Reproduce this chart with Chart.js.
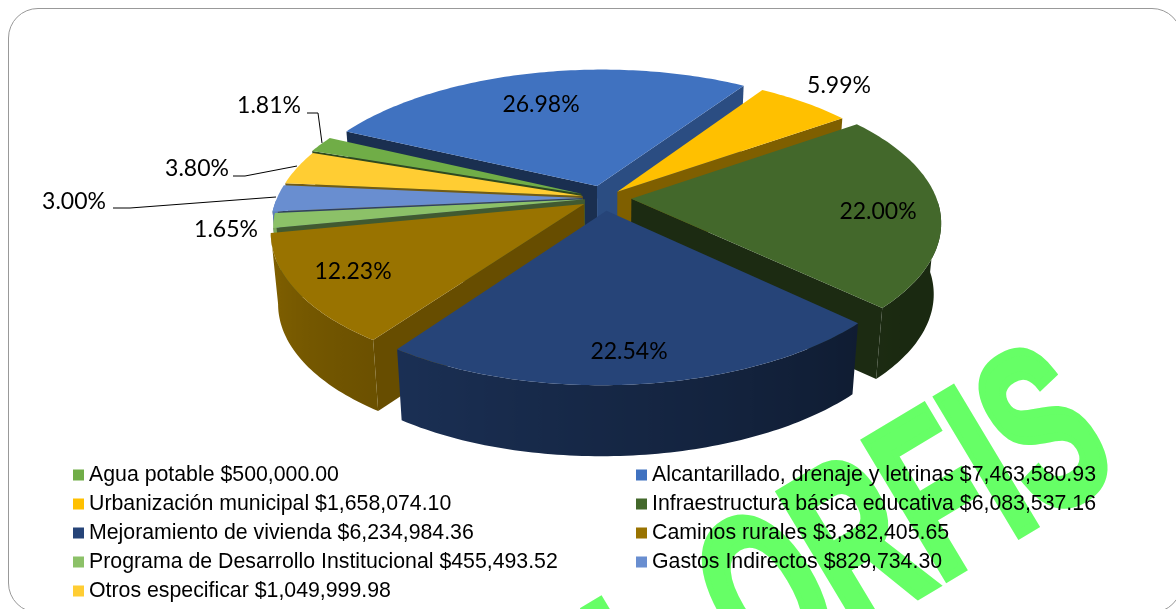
<!DOCTYPE html>
<html>
<head>
<meta charset="utf-8">
<title>Inversión por rubro</title>
<script src="https://cdn.jsdelivr.net/npm/chart.js@4/dist/chart.umd.js"></script>
<style>
  html, body { margin: 0; padding: 0; width: 1176px; height: 609px; overflow: hidden; background: #fff; }
  #frame { position: absolute; left: 8px; top: 8px; width: 1174px; height: 605px; box-sizing: border-box;
           border: 1.5px solid #999; border-radius: 30px; }
  #mark { position: absolute; left: 0; top: 0; font: bold 230px "Liberation Sans", Arial, sans-serif; color: #66ff66;
          -webkit-text-stroke: 9px #66ff66; white-space: pre; line-height: 1; transform-origin: 0 0; }
  canvas { position: absolute; left: 0; top: 0; }
</style>
</head>
<body>
<div id="frame"></div>
<div id="mark"></div>
<canvas id="chart" width="1176" height="609"></canvas>
<script>
const categories = [
  "Agua potable", "Alcantarillado, drenaje y letrinas", "Urbanización municipal",
  "Infraestructura básica educativa", "Mejoramiento de vivienda", "Caminos rurales",
  "Programa de Desarrollo Institucional", "Gastos Indirectos", "Otros especificar",
];
const amounts = [500000.0, 7463580.93, 1658074.1, 6083537.16, 6234984.36, 3382405.65, 455493.52, 829734.3, 1049999.98];
const percents = ["1.81%", "26.98%", "5.99%", "22.00%", "22.54%", "12.23%", "1.65%", "3.00%", "3.80%"];
const colors = ["#70AD47", "#4072C0", "#FFC000", "#43682B", "#264478", "#997300", "#8CC168", "#698ED0", "#FFCD33"];

// where each percent label sits, and the leader lines of the small slices
const labelSpots = [[269, 106], [541, 105], [839, 86], [878, 212], [629, 352], [353, 272], [226, 230], [74, 202], [197, 169]];
const leaders = {
  0: [[307, 113], [318, 113], [322, 143]],
  7: [[113, 208], [130, 208], [276, 197]],
  8: [[233, 176], [245, 176], [297, 166]],
};

// the look of the tilted pie
const view = { cx: 604, cy: 198, sx: 305, sy: 140, skew: -5, persp: 0.17, explode: 0.09, depth: 71, shrink: 0.978 };
const explodeBy = [0.9, 1, 0.7, 1, 1, 0.85, 0.7, 0.8, 0.8];
const firstAngle = 289;

const money = (n) => "$" + n.toLocaleString("en-US", { minimumFractionDigits: 2, maximumFractionDigits: 2 });

function shadeColor(hex, f) {
  const n = parseInt(hex.slice(1), 16);
  return `rgb(${((n >> 16) & 255) * f | 0},${((n >> 8) & 255) * f | 0},${(n & 255) * f | 0})`;
}

function project(u, v) {
  const w = 1 - view.persp * v;
  return [view.cx + (view.sx * u + view.skew * v) / w, view.cy + (view.sy * v) / w];
}

function lower(p) {
  return [view.cx + (p[0] - view.cx) * view.shrink, p[1] + view.depth];
}

function poly(ctx, pts, fill) {
  ctx.beginPath();
  pts.forEach((p, i) => (i ? ctx.lineTo(p[0], p[1]) : ctx.moveTo(p[0], p[1])));
  ctx.closePath();
  ctx.fillStyle = fill;
  ctx.fill();
}

// side of a radial cut, by the way it faces
function cutShade(n) {
  if (n < 124) return 0.68;
  if (n < 144) return 0.68 - ((n - 124) / 20) * 0.18;
  if (n < 205) return 0.5 - ((n - 144) / 61) * 0.08;
  return 0.42;
}

// outside rim, dark on the right and lighter to the left
function rimShade(deg) {
  return Math.min(0.9, Math.max(0.4, 0.42 + ((deg - 133) / 137) * 0.48));
}

const tiltedPie = {
  id: "tiltedPie",
  beforeDatasetDraw(chart) {
    const ctx = chart.ctx;
    const arcs = chart.getDatasetMeta(0).data;
    const slices = arcs.map((arc, i) => {
      const a0 = arc.startAngle + Math.PI / 2;
      const a1 = arc.endAngle + Math.PI / 2;
      const mid = (a0 + a1) / 2;
      const e = view.explode * explodeBy[i];
      return { i, a0, a1, du: e * Math.sin(mid), dv: -e * Math.cos(mid), order: -Math.cos(mid) };
    });
    slices.sort((p, q) => p.order - q.order);

    slices.forEach((s) => {
      const at = (a, r) => project(s.du + r * Math.sin(a), s.dv - r * Math.cos(a));
      const color = colors[s.i];
      const apex = at(0, 0);
      const steps = Math.max(4, Math.ceil(((s.a1 - s.a0) * 180) / Math.PI));
      const angles = [];
      for (let k = 0; k <= steps; k++) angles.push(s.a0 + ((s.a1 - s.a0) * k) / steps);
      const top = angles.map((a) => at(a, 1));

      // cut faces turned towards the viewer
      if (Math.sin(s.a0) < 0) {
        const deg = (((s.a0 * 180) / Math.PI - 90) % 360 + 360) % 360;
        poly(ctx, [apex, top[0], lower(top[0]), lower(apex)], shadeColor(color, cutShade(deg)));
      }
      if (Math.sin(s.a1) > 0) {
        const deg = (((s.a1 * 180) / Math.PI + 90) % 360 + 360) % 360;
        const end = top[top.length - 1];
        poly(ctx, [apex, end, lower(end), lower(apex)], shadeColor(color, cutShade(deg)));
      }

      // rim: only the front part of the arc
      const front = [];
      angles.forEach((a, k) => {
        if (Math.cos(a) < 0) front.push({ deg: (((a * 180) / Math.PI) % 360 + 360) % 360, p: top[k] });
      });
      if (front.length > 1) {
        const xs = front.map((f) => f.p[0]);
        const x0 = Math.min(...xs);
        const x1 = Math.max(...xs);
        const grad = ctx.createLinearGradient(x0, 0, x1, 0);
        front.forEach((f) => grad.addColorStop((f.p[0] - x0) / (x1 - x0 || 1), shadeColor(color, rimShade(f.deg))));
        const ring = front.map((f) => f.p).concat(front.map((f) => lower(f.p)).reverse());
        poly(ctx, ring, grad);
      }

      // top face
      poly(ctx, [apex].concat(top), color);
    });
    return false;
  },
  afterDraw(chart) {
    const ctx = chart.ctx;
    ctx.save();

    // percent labels and leader lines
    ctx.strokeStyle = "#000";
    ctx.lineWidth = 1;
    Object.values(leaders).forEach((line) => {
      ctx.beginPath();
      line.forEach((p, i) => (i ? ctx.lineTo(p[0], p[1]) : ctx.moveTo(p[0], p[1])));
      ctx.stroke();
    });
    ctx.fillStyle = "#000";
    ctx.font = '23px Lato, "Open Sans", sans-serif';
    ctx.textAlign = "center";
    ctx.textBaseline = "middle";
    percents.forEach((text, i) => ctx.fillText(text, labelSpots[i][0], labelSpots[i][1]));

    // legend, two columns
    ctx.font = '21.3px "Liberation Sans", Arial, sans-serif';
    ctx.textAlign = "left";
    categories.forEach((name, i) => {
      const col = i % 2;
      const y = 475 + 29 * Math.floor(i / 2);
      const x = col ? 636 : 73;
      ctx.fillStyle = colors[i];
      ctx.fillRect(x, y - 5.5, 11, 11);
      ctx.fillStyle = "#000";
      ctx.fillText(name + " " + money(amounts[i]), x + 16, y);
    });
    ctx.restore();
  },
};

new Chart(document.querySelector("#chart"), {
  type: "pie",
  data: {
    labels: categories,
    datasets: [{ data: amounts, backgroundColor: colors, borderWidth: 0 }],
  },
  options: {
    responsive: false,
    animation: false,
    rotation: firstAngle,
    layout: { padding: 0 },
    plugins: { legend: { display: false }, tooltip: { enabled: false } },
  },
  plugins: [tiltedPie],
});

const mark = document.querySelector("#mark");
mark.textContent = "L ORFIS";
mark.style.transform = "translate(558px, 585px) rotate(-31deg) scaleX(0.6)";
</script>
</body>
</html>
